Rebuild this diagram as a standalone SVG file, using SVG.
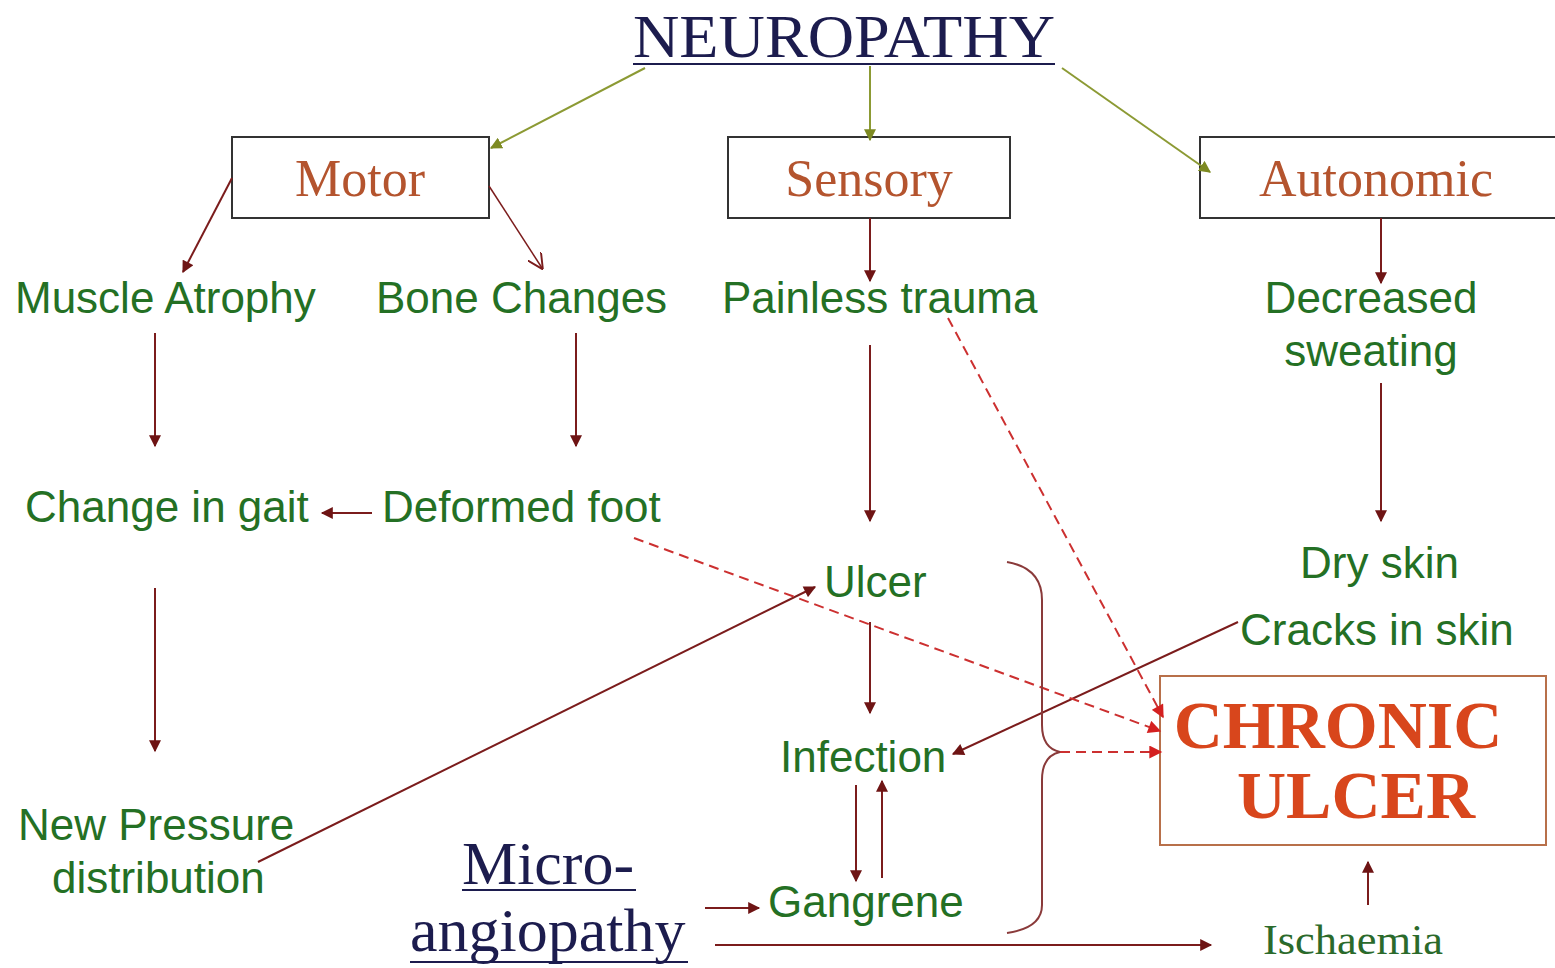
<svg xmlns="http://www.w3.org/2000/svg" width="1555" height="968" viewBox="0 0 1555 968">
<defs>
<style>
.g{font-family:"Liberation Sans",Arial,sans-serif;font-size:44px;fill:#247024}
.bx{fill:#fff;stroke:#333;stroke-width:2}
.bt{font-family:"Liberation Serif","Times New Roman",serif;font-size:52px;fill:#b4542e;text-anchor:middle}
.nv{font-family:"Liberation Serif","Times New Roman",serif;fill:#1c1c4e}
.ar{stroke:#7b1c1c;stroke-width:2;fill:none;marker-end:url(#ah)}
.ol{stroke:#8c9a34;stroke-width:2;fill:none;marker-end:url(#ahg)}
.ds{stroke:#cc3030;stroke-width:2;fill:none;stroke-dasharray:10 6;marker-end:url(#ahr)}
</style>
<marker id="ah" viewBox="0 0 10 10" refX="9" refY="5" markerWidth="13" markerHeight="12" markerUnits="userSpaceOnUse" orient="auto"><path d="M0,0 L10,5 L0,10 z" fill="#6e1414"/></marker>
<marker id="ahg" viewBox="0 0 10 10" refX="9" refY="5" markerWidth="12" markerHeight="12" markerUnits="userSpaceOnUse" orient="auto"><path d="M0,0 L10,5 L0,10 z" fill="#7d8a22"/></marker>
<marker id="ahr" viewBox="0 0 10 10" refX="9" refY="5" markerWidth="14" markerHeight="13" markerUnits="userSpaceOnUse" orient="auto"><path d="M0,0 L10,5 L0,10 z" fill="#d42020"/></marker>
<marker id="aho" viewBox="0 0 10 10" refX="9" refY="5" markerWidth="16" markerHeight="16" markerUnits="userSpaceOnUse" orient="auto"><path d="M0,0 L10,5 L0,10" fill="none" stroke="#7b1c1c" stroke-width="1.2"/></marker>
</defs>
<rect width="1555" height="968" fill="#fff"/>

<g id="neuropathy">
<text class="nv" x="633" y="57" font-size="62" textLength="422" lengthAdjust="spacingAndGlyphs">NEUROPATHY</text>
<line x1="633" y1="64" x2="1055" y2="64" stroke="#1c1c4e" stroke-width="2"/>
</g>
<g id="motor"><rect class="bx" x="232" y="137" width="257" height="81"/><text class="bt" x="360" y="196">Motor</text></g>
<g id="sensory"><rect class="bx" x="728" y="137" width="282" height="81"/><text class="bt" x="869" y="196">Sensory</text></g>
<g id="autonomic"><rect class="bx" x="1200" y="137" width="360" height="81"/><text class="bt" x="1376" y="196">Autonomic</text></g>

<g id="muscle-atrophy"><text class="g" x="15" y="313">Muscle Atrophy</text></g>
<g id="bone-changes"><text class="g" x="376" y="313">Bone Changes</text></g>
<g id="painless-trauma"><text class="g" x="722" y="313">Painless trauma</text></g>
<g id="decreased-sweating"><text class="g" x="1371" y="313" text-anchor="middle">Decreased</text><text class="g" x="1371" y="366" text-anchor="middle">sweating</text></g>
<g id="change-in-gait"><text class="g" x="25" y="522">Change in gait</text></g>
<g id="deformed-foot"><text class="g" x="382" y="522">Deformed foot</text></g>
<g id="ulcer"><text class="g" x="824" y="597">Ulcer</text></g>
<g id="dry-skin"><text class="g" x="1300" y="578">Dry skin</text></g>
<g id="cracks-in-skin"><text class="g" x="1240" y="645">Cracks in skin</text></g>
<g id="infection"><text class="g" x="780" y="772">Infection</text></g>
<g id="new-pressure"><text class="g" x="18" y="840">New Pressure</text><text class="g" x="52" y="893">distribution</text></g>
<g id="gangrene"><text class="g" x="768" y="917">Gangrene</text></g>
<g id="microangiopathy">
<text class="nv" x="462" y="884" font-size="62">Micro-</text>
<line x1="462" y1="890" x2="636" y2="890" stroke="#1c1c4e" stroke-width="2"/>
<text class="nv" x="410" y="951" font-size="62">angiopathy</text>
<line x1="410" y1="962" x2="688" y2="962" stroke="#1c1c4e" stroke-width="2"/>
</g>
<g id="ischaemia"><text x="1263" y="954" font-family="'Liberation Serif','Times New Roman',serif" font-size="42" fill="#2b6a2b" textLength="180" lengthAdjust="spacingAndGlyphs">Ischaemia</text></g>
<g id="chronic-ulcer">
<rect x="1160" y="676" width="386" height="169" fill="#fff" stroke="#b8704a" stroke-width="2"/>
<text x="1338" y="748" font-family="'Liberation Serif','Times New Roman',serif" font-weight="bold" font-size="68" fill="#d8461c" text-anchor="middle">CHRONIC</text>
<text x="1356" y="818" font-family="'Liberation Serif','Times New Roman',serif" font-weight="bold" font-size="68" fill="#d8461c" text-anchor="middle">ULCER</text>
</g>

<g id="connectors">
<line class="ol" x1="645" y1="68" x2="491" y2="148"/>
<line class="ol" x1="870" y1="66" x2="870" y2="140"/>
<line class="ol" x1="1062" y1="68" x2="1210" y2="172"/>
<line class="ar" x1="232" y1="178" x2="183" y2="272"/>
<line x1="489" y1="186" x2="542" y2="268" stroke="#7b1c1c" stroke-width="1.5" marker-end="url(#aho)"/>
<line class="ar" x1="870" y1="218" x2="870" y2="281"/>
<line class="ar" x1="1381" y1="218" x2="1381" y2="283"/>
<line class="ar" x1="155" y1="333" x2="155" y2="446"/>
<line class="ar" x1="576" y1="333" x2="576" y2="446"/>
<line class="ar" x1="870" y1="345" x2="870" y2="521"/>
<line class="ar" x1="1381" y1="383" x2="1381" y2="521"/>
<line class="ar" x1="372" y1="513" x2="322" y2="513"/>
<line class="ar" x1="155" y1="588" x2="155" y2="751"/>
<line class="ar" x1="258" y1="862" x2="815" y2="587"/>
<line class="ar" x1="870" y1="622" x2="870" y2="713"/>
<line class="ar" x1="1238" y1="622" x2="953" y2="754"/>
<line class="ar" x1="856" y1="785" x2="856" y2="881"/>
<line class="ar" x1="882" y1="878" x2="882" y2="781"/>
<line class="ar" x1="705" y1="908" x2="759" y2="908"/>
<line class="ar" x1="715" y1="945" x2="1211" y2="945"/>
<line class="ar" x1="1368" y1="905" x2="1368" y2="862"/>
<line class="ds" x1="634" y1="538" x2="1160" y2="731"/>
<line class="ds" x1="948" y1="318" x2="1163" y2="717"/>
<line class="ds" x1="1060" y1="752" x2="1161" y2="752"/>
<path d="M1007,562 Q1042,568 1042,600 L1042,725 Q1042,748 1060,752 Q1042,756 1042,780 L1042,905 Q1042,928 1007,933" fill="none" stroke="#8a3a3a" stroke-width="2"/>
</g>
</svg>
